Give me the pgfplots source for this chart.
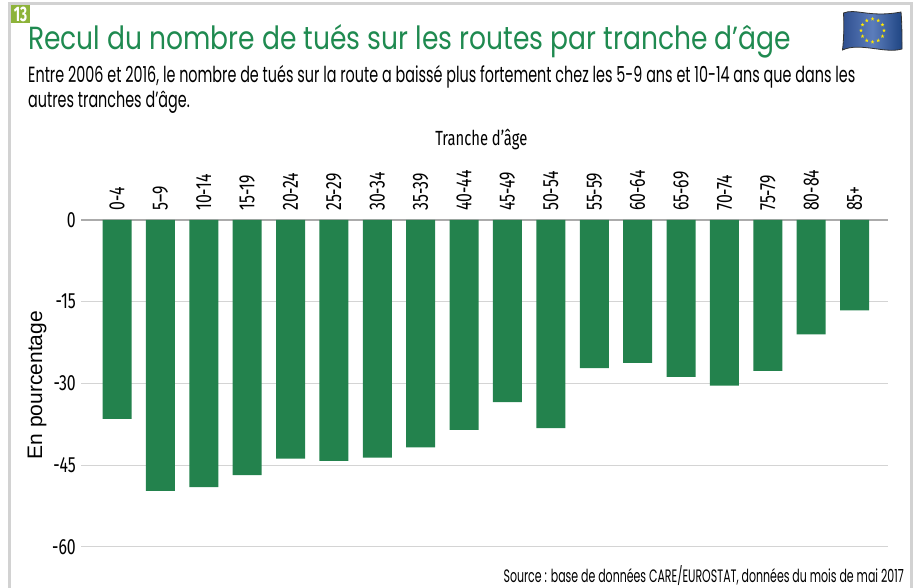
\documentclass[border=0pt]{standalone}
\usepackage{pgfplots}
\pgfplotsset{compat=1.18}
\usepackage{fontspec}
\usetikzlibrary{shapes.geometric}
\setmainfont{Poppins}
\newfontfamily\titlef[FakeStretch=0.83]{Poppins}
\newfontfamily\subf[FakeStretch=0.653]{Poppins}
\newfontfamily\srcf[FakeStretch=0.61]{Poppins}
\newfontfamily\tickf[FakeStretch=0.72]{Fira Sans}
\newfontfamily\badgef[FakeStretch=0.65]{Fira Sans}
\newfontfamily\labf{Liberation Sans}
\definecolor{bargreen}{HTML}{23824D}
\definecolor{titlegreen}{HTML}{1F8A50}
\definecolor{frame}{HTML}{D2D2D2}
\definecolor{gridc}{HTML}{D4D4D4}
\definecolor{zeroc}{HTML}{ABABAB}
\definecolor{olive}{HTML}{8DB33A}
\definecolor{flagL}{HTML}{2F4F8F}
\definecolor{flagM}{HTML}{5C7DBB}
\definecolor{flagR}{HTML}{1F4583}
\begin{document}
\begin{tikzpicture}[x=1pt,y=1pt]
\path[use as bounding box] (0,0) rectangle (916,588);
\draw[frame,line width=3pt] (9.5,-5) -- (9.5,584) -- (911.5,584) -- (911.5,-5);
\fill[olive] (11,565) rectangle (30,583);
\node[white,font=\badgef\bfseries\fontsize{21}{21}\selectfont,inner sep=0] at (20.5,574) {13};
\node[anchor=base west,inner sep=0,text=titlegreen,font=\titlef\fontsize{32}{32}\selectfont] at (28,538.5) {Recul du nombre de tués sur les routes par tranche d’âge};
\node[anchor=base west,inner sep=0,font=\subf\fontsize{22}{22}\selectfont] at (28,505) {Entre 2006 et 2016, le nombre de tués sur la route a baissé plus fortement chez les 5-9 ans et 10-14 ans que dans les};
\node[anchor=base west,inner sep=0,font=\subf\fontsize{22}{22}\selectfont] at (28,480) {autres tranches d’âge.};
\node[anchor=base east,inner sep=0,font=\srcf\fontsize{18}{18}\selectfont] at (904,5) {Source : base de données CARE/EUROSTAT, données du mois de mai 2017};
% flag
\shade[left color=flagL,right color=flagR,middle color=flagM] (843.5,575) .. controls (855,580) and (870,570) .. (901,576) .. controls (902,565) and (902,550) .. (902,539) .. controls (885,534) and (860,546) .. (842.5,538) .. controls (844,550) and (844,565) .. (843.5,575) -- cycle;
\draw[black!80,line width=0.8pt] (843.5,575) .. controls (855,580) and (870,570) .. (901,576) .. controls (902,565) and (902,550) .. (902,539) .. controls (885,534) and (860,546) .. (842.5,538) .. controls (844,550) and (844,565) .. (843.5,575) -- cycle;
\foreach \a in {0,30,...,330}
  \node[star,star points=5,star point ratio=2.4,fill=yellow!90!orange,inner sep=0,minimum size=4pt] at ({872.5+11.5*cos(\a)},{557.5+11.5*sin(\a)}) {};
\begin{axis}[
  at={(81pt,41pt)},anchor=south west,
  scale only axis,width=807pt,height=327pt,
  xmin=-0.83,xmax=17.77,ymin=-60,ymax=0,
  axis line style={draw=none},
  clip=false,
  major tick length=0pt,
  xtick={0,...,17},
  xticklabels={0-4,5–9,10-14,15-19,20-24,25-29,30-34,35-39,40-44,45-49,50-54,55-59,60-64,65-69,70-74,75-79,80-84,85+},
  xticklabel pos=upper,
  x tick label style={rotate=90,anchor=west,font=\tickf\fontsize{22}{22}\selectfont,inner sep=9pt},
  ytick={-60,-45,-30,-15,0},
  yticklabel style={font=\tickf\fontsize{22}{22}\selectfont,inner sep=5pt},
  /pgf/number format/assume math mode=true,
  ymajorgrids,
  grid style={gridc,line width=1pt},
  xlabel={Tranche d’âge},
  xlabel style={at={(axis description cs:0.496,1.247)},anchor=center,font=\tickf\fontsize{20.5}{20.5}\selectfont},
  ylabel={En pourcentage},
  ylabel style={at={(axis description cs:-0.0545,0.495)},anchor=center,font=\labf\fontsize{21}{21}\selectfont},
]
\addplot[zeroc,line width=2pt,forget plot] coordinates {(-0.83,0) (17.77,0)};
\addplot[ybar,bar width=29pt,fill=bargreen,draw=none] coordinates {
(0,-36.5) (1,-49.7) (2,-49.0) (3,-46.8) (4,-43.8) (5,-44.2) (6,-43.6) (7,-41.7) (8,-38.5)
(9,-33.4) (10,-38.2) (11,-27.2) (12,-26.2) (13,-28.8) (14,-30.4) (15,-27.7) (16,-21.0) (17,-16.6)};
\end{axis}
\end{tikzpicture}
\end{document}
